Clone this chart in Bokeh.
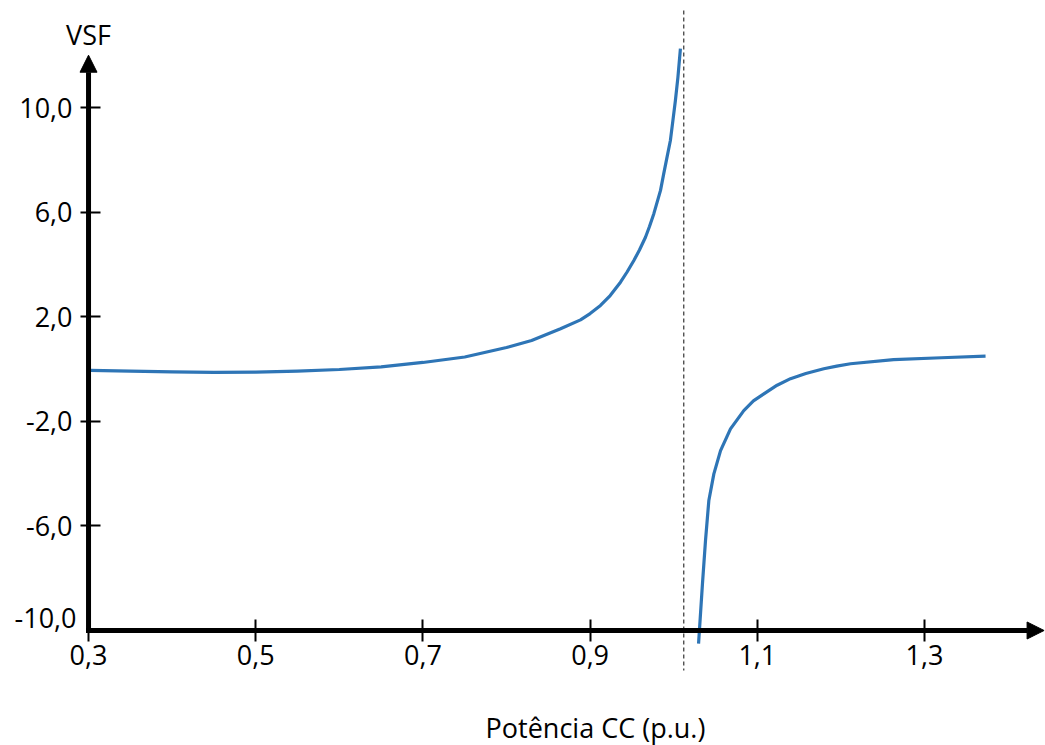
from bokeh.plotting import figure
from bokeh.models import Range1d, FixedTicker, Arrow, NormalHead, Label, CustomJSTickFormatter
from bokeh.embed import file_html
from bokeh.resources import INLINE

# VSF versus DC power (p.u.), two branches around the asymptote
p_left = [0.302, 0.35, 0.40, 0.45, 0.50, 0.55, 0.60, 0.65, 0.70, 0.75, 0.80, 0.83,
          0.8646, 0.8885, 0.90, 0.9124, 0.924, 0.9363, 0.944, 0.9523, 0.959, 0.9662,
          0.971, 0.9762, 0.9842, 0.988, 0.992, 0.996, 0.999, 1.002, 1.005, 1.008]
vsf_left = [-0.05, -0.08, -0.11, -0.13, -0.12, -0.08, -0.02, 0.08, 0.25, 0.46, 0.82, 1.09,
            1.54, 1.88, 2.12, 2.43, 2.81, 3.32, 3.70, 4.15, 4.55, 5.04,
            5.45, 5.94, 6.83, 7.46, 8.1, 8.74, 9.5, 10.27, 11.15, 12.25]

p_right = [1.0297, 1.0344, 1.0380, 1.0420, 1.0480, 1.0560, 1.0679, 1.0838, 1.0953,
           1.1078, 1.1237, 1.1397, 1.158, 1.1795, 1.195, 1.2115, 1.263, 1.320, 1.373]
vsf_right = [-10.5, -8.2, -6.56, -5.03, -4.01, -3.12, -2.29, -1.59, -1.22,
             -0.95, -0.62, -0.37, -0.17, 0.01, 0.11, 0.20, 0.36, 0.43, 0.49]

asymptote = 1.012
x_ticks = [0.3, 0.5, 0.7, 0.9, 1.1, 1.3]
y_ticks = [-6.0, -2.0, 2.0, 6.0, 10.0]
y_floor = -10.0
y_top = 12.0
x_tip = 1.443

FONT = "Open Sans"
BLUE = "#2E75B6"

p = figure(width=1045, height=745, output_backend="svg", toolbar_location=None,
           x_range=Range1d(0.1947, 1.4447), y_range=Range1d(-14.398, 14.092),
           min_border=0, outline_line_color=None, background_fill_color="white",
           border_fill_color="white")
p.grid.visible = False

comma = CustomJSTickFormatter(code="return tick.toFixed(1).replace('.', ',');")

xa = p.xaxis[0]
xa.fixed_location = y_floor
xa.ticker = FixedTicker(ticks=x_ticks)
xa.formatter = comma
xa.axis_line_color = None
xa.major_tick_in = 11
xa.major_tick_out = 11
xa.major_tick_line_width = 2
xa.major_tick_line_color = "black"
xa.minor_tick_line_color = None
xa.major_label_standoff = 4
xa.major_label_text_font = FONT
xa.major_label_text_font_size = "27px"
xa.major_label_text_color = "black"

ya = p.yaxis[0]
ya.fixed_location = x_ticks[0]
ya.ticker = FixedTicker(ticks=y_ticks)
ya.formatter = comma
ya.axis_line_color = None
ya.major_tick_in = 12
ya.major_tick_out = 8
ya.major_tick_line_width = 2
ya.major_tick_line_color = "black"
ya.minor_tick_line_color = None
ya.major_label_standoff = 8
ya.major_label_text_font = FONT
ya.major_label_text_font_size = "27px"
ya.major_label_text_color = "black"

# asymptote marker
p.segment(x0=[asymptote], y0=[13.71], x1=[asymptote], y1=[-11.53],
          line_dash="4 3", line_width=1.2, line_color="#333333")

# the two branches of the curve
p.line(p_left, vsf_left, line_width=3.2, line_color=BLUE, line_join="round")
p.line(p_right, vsf_right, line_width=3.2, line_color=BLUE, line_join="round")

# arrowed axis lines
p.add_layout(Arrow(end=NormalHead(size=17, fill_color="black", line_color="black"),
                   x_start=x_ticks[0], y_start=y_floor - 0.1, x_end=x_ticks[0], y_end=y_top,
                   line_width=5, line_color="black"))
p.add_layout(Arrow(end=NormalHead(size=17, fill_color="black", line_color="black"),
                   x_start=x_ticks[0] - 0.003, y_start=y_floor, x_end=x_tip, y_end=y_floor,
                   line_width=5, line_color="black"))

p.add_layout(Label(x=x_ticks[0], y=y_floor, text="-10,0", x_offset=-12, y_offset=12,
                   text_align="right", text_baseline="middle", text_font=FONT,
                   text_font_size="27px", text_color="black"))
p.add_layout(Label(x=x_ticks[0], y=y_top, text="VSF", y_offset=21,
                   text_align="center", text_baseline="alphabetic", text_font=FONT,
                   text_font_size="27px", text_color="black"))
p.add_layout(Label(x=0.9064, y=y_floor, text="Potência CC (p.u.)", y_offset=-97,
                   text_align="center", text_baseline="alphabetic", text_font=FONT,
                   text_font_size="27px", text_color="black"))

open("out.html", "w").write(file_html(p, INLINE))
